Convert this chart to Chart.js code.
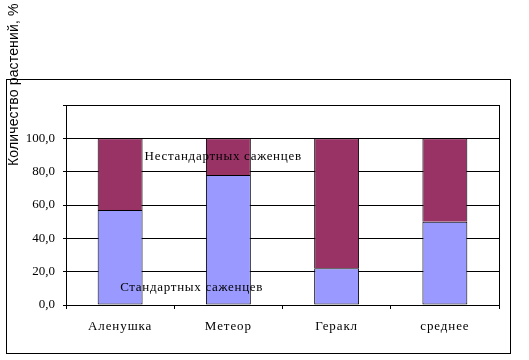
<!DOCTYPE html>
<html><head><meta charset="utf-8">
<script src="https://cdn.jsdelivr.net/npm/chart.js@4/dist/chart.umd.min.js"></script>
<style>html,body{margin:0;padding:0;background:#fff}#wrap{width:529px;height:360px}</style>
</head><body><div id="wrap"><canvas id="c" width="529" height="360"></canvas></div>
<script>
const categories = ['Аленушка', 'Метеор', 'Геракл', 'среднее'];
const standard = [57, 78, 22, 50];
const nonStandard = [43, 22, 78, 50];
const seriesNames = ['Стандартных саженцев', 'Нестандартных саженцев'];
const yTicks = [0, 20, 40, 60, 80, 100, 120];
const yTitle = 'Количество растений, %';

const serif = "'Liberation Serif', 'Times New Roman', serif";
const sans = "'Liberation Sans', Arial, sans-serif";

const decor = {
  id: 'decor',
  beforeDraw(chart) {
    const ctx = chart.ctx;
    ctx.letterSpacing = '0px';
    ctx.save();
    ctx.fillStyle = '#fff';
    ctx.fillRect(0, 0, chart.width, chart.height);
    ctx.strokeStyle = '#000';
    ctx.lineWidth = 1;
    ctx.strokeRect(6.5, 79.5, 504, 274);
    ctx.restore();
  },
  beforeDatasetsDraw(chart) {
    const ctx = chart.ctx, a = chart.chartArea;
    ctx.save();
    ctx.strokeStyle = '#000';
    ctx.lineWidth = 1;
    ctx.beginPath();
    ctx.moveTo(Math.round(a.right) + 0.5, a.top);
    ctx.lineTo(Math.round(a.right) + 0.5, a.bottom);
    ctx.stroke();
    ctx.restore();
  },
  afterDatasetsDraw(chart) {
    const ctx = chart.ctx, y = chart.scales.y;
    const m0 = chart.getDatasetMeta(0).data[0];
    const m1 = chart.getDatasetMeta(1).data[0];
    ctx.save();
    ctx.fillStyle = '#000';
    ctx.letterSpacing = '0.7px';
    ctx.font = '13px ' + serif;
    ctx.textBaseline = 'alphabetic';
    ctx.textAlign = 'left';
    ctx.fillText(seriesNames[1], m1.x + m1.width / 2 + 2, y.getPixelForValue(87));
    ctx.fillText(seriesNames[0], m0.x, y.getPixelForValue(8.7));
    // y-axis title
    ctx.translate(18, 166);
    ctx.rotate(-Math.PI / 2);
    ctx.font = '14px ' + sans;
    ctx.letterSpacing = '0.15px';
    ctx.fillText(yTitle, 0, 0);
    ctx.restore();
    // x tick labels (drawn after datasets, z=1) get the wider spacing
    ctx.letterSpacing = '0.9px';
  },
  afterDraw(chart) {
    chart.ctx.letterSpacing = '0px';
  }
};

new Chart(document.getElementById('c'), {
  type: 'bar',
  data: {
    labels: categories,
    datasets: [
      { label: seriesNames[0], data: standard, backgroundColor: '#9999FF', borderColor: '#000', borderWidth: 1, borderSkipped: false, categoryPercentage: 1, barPercentage: 0.415 },
      { label: seriesNames[1], data: nonStandard, backgroundColor: '#993366', borderColor: '#000', borderWidth: 1, borderSkipped: 'bottom', categoryPercentage: 1, barPercentage: 0.415 }
    ]
  },
  options: {
    responsive: false,
    animation: false,
    devicePixelRatio: 1,
    layout: { padding: { left: 6, right: 30, top: 105, bottom: 0 } },
    plugins: { legend: { display: false }, tooltip: { enabled: false }, title: { display: false } },
    scales: {
      x: {
        stacked: true,
        afterFit(s) { s.height = 55; },
        grid: { offset: true, drawOnChartArea: false, color: '#000', tickLength: 4, tickColor: '#000' },
        border: { color: '#000' },
        ticks: { z: 1, color: '#000', font: { family: serif, size: 13 }, padding: 10, maxRotation: 0 }
      },
      y: {
        stacked: true,
        min: 0, max: 120,
        afterFit(s) { s.width = 60; },
        afterBuildTicks(s) { s.ticks = yTicks.map(v => ({ value: v })); },
        grid: { color: '#000', tickLength: 3, tickColor: '#000' },
        border: { color: '#000' },
        ticks: {
          color: '#000', font: { family: serif, size: 13 }, padding: 8,
          callback: v => v === 120 ? '' : v.toFixed(1).replace('.', ',')
        }
      }
    }
  },
  plugins: [decor]
});
</script></body></html>
